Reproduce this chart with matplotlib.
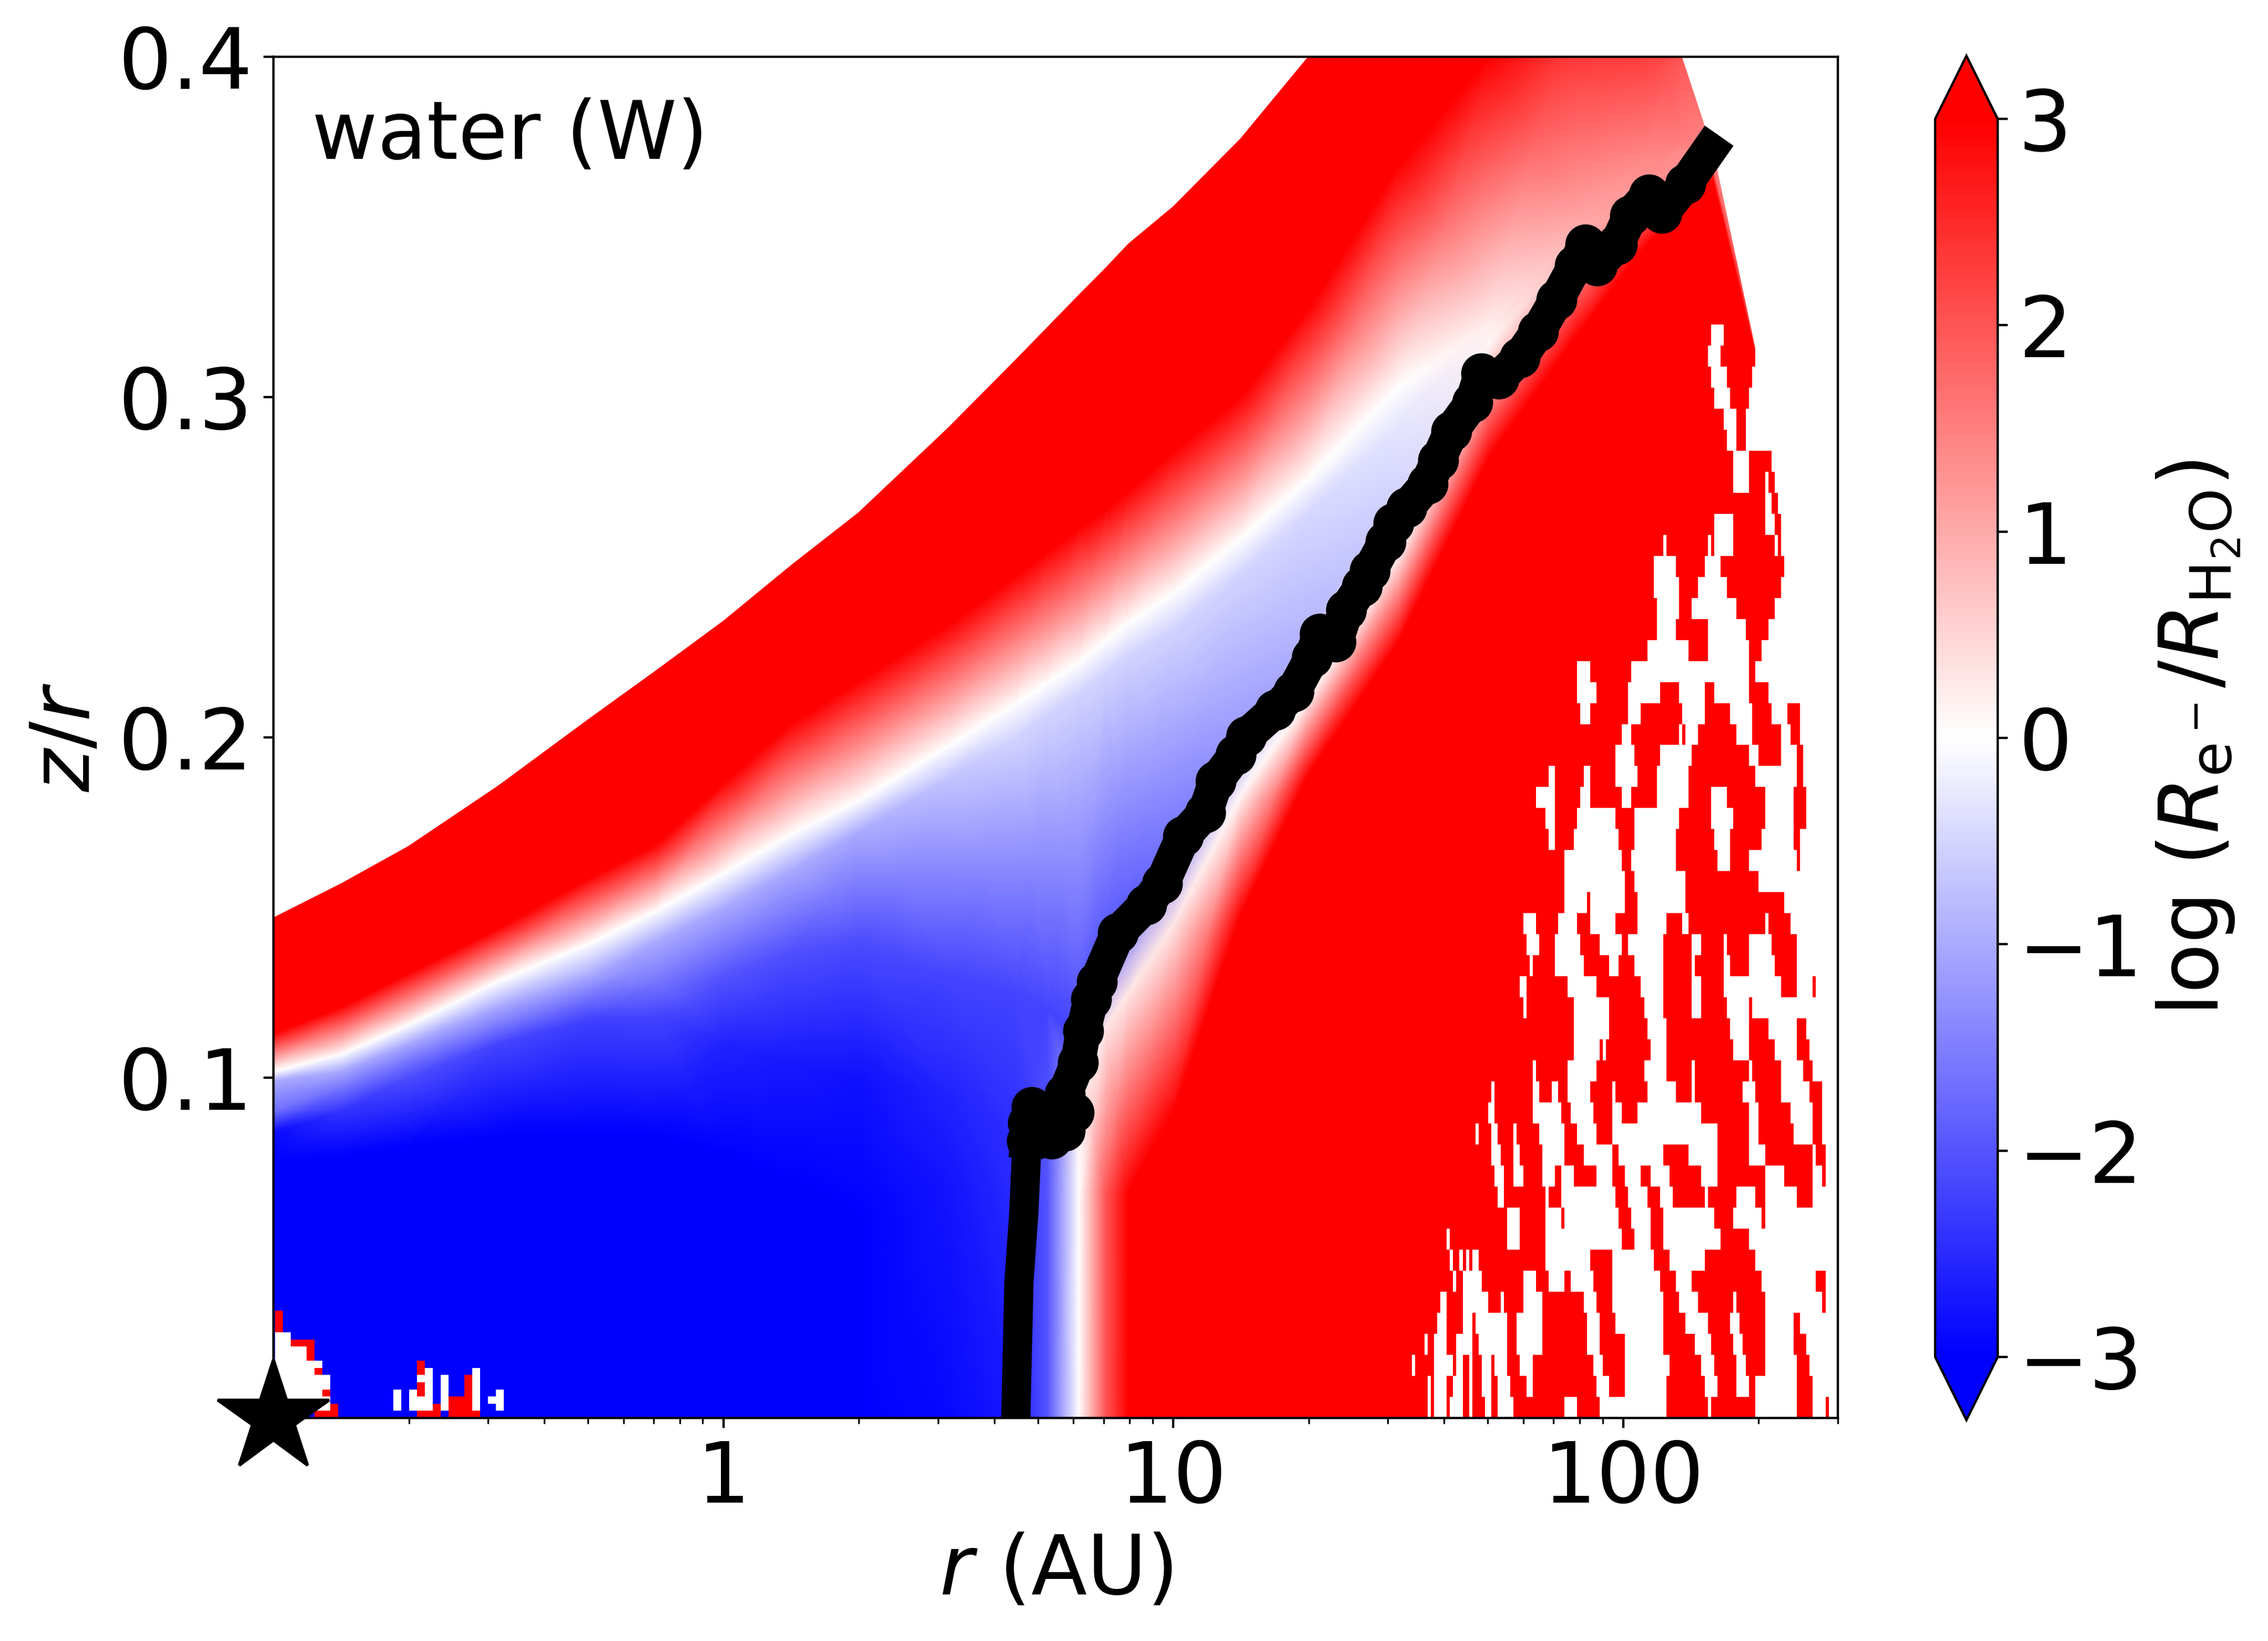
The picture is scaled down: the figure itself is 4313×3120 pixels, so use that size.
"""
Water disk map: log (R_e-/R_H2O) against r and z/r, with the contour where it crosses.
"""
import numpy as np
import matplotlib
matplotlib.use('Agg')
import matplotlib.pyplot as plt
from matplotlib.colors import ListedColormap
from matplotlib.ticker import FormatStrFormatter, NullFormatter

# columns of the field, log10(r/AU)
log_r = [-1, -.85, -.7, -.5, -.3, -.15, 0, .15, .3, .5, .65, .72, .79, .85, .9, 1, 1.15, 1.3, 1.5, 1.7, 1.9, 2.05, 2.13, 2.2, 2.3, 2.48]

# field rows from the midplane up: z/r of each row and the value on it
z_0 = [0] * 26
v_0 = [-3, -3, -3, -3, -3, -3, -3, -3, -3, -2.9, -2.7, -2, 0, 2, 3, 3, 3, 3, 3, 3, 3, 3, 3, 3, 3, 3]
z_1 = [.075, .077, .08, .083, .084, .083, .078, .07, .06, .07, .066, .066, .066, .066, .0665, .09, .148, .189, .228, .282, .3185, .3445, .3546, .364, .31, .31]
v_1 = [-3, -3, -3, -3, -3, -3, -3, -3, -3, -2.75, -2.5, -2, 0, 2, 3, 3, 3, 3, 3, 3, 3, 3, 3, 3, 3, 3]
z_2 = [.084, .09, .1, .11, .117, .118, .11, .105, .1, .095, .085, .08, .098, .115, .125, .145, .183, .212, .2535, .303, .335, .355, .362, .367, .31, .31]
v_2 = [-2.85, -2.4, -2.1, -2.2, -2.25, -2.2, -2.6, -2.7, -2.8, -2.6, -2.45, -2, .2, .3, .3, .3, .1, .1, .2, 1, 1.5, 1.6, 1.8, 1.8, 3, 3]
z_3 = [.09, .097, .105, .115, .123, .128, .13, .137, .14, .13, .125, .12, .112, .14, .15, .17, .2, .232, .273, .315, .345, .362, .368, .37, .31, .31]
v_3 = [-1.7, -1.6, -1.6, -1.6, -1.7, -1.6, -2, -2.05, -2.1, -2.2, -2.2, -2.2, -2.2, -2, -1.9, -1.6, -1.2, -.85, -.5, .1, .9, 1.3, 1.3, 1.3, 3, 3]
z_4 = [.099, .102, .11, .121, .13, .14, .15, .161, .172, .188, .2, .207, .213, .219, .224, .232, .248, .266, .292, .318, .35, .366, .372, .37, .31, .31]
v_4 = [-1, -1, -1, -1, -1, -1, -1, -1, -1, -.7, -.5, -.5, -.5, -.5, -.5, -.5, -.5, -.45, -.3, .15, 1, 1.35, 1.35, 1.3, 3, 3]
z_5 = [.1018, .1068, .1155, .1284, .1393, .149, .16, .1715, .1815, .1975, .21, .216, .222, .2285, .2335, .2425, .2585, .276, .303, .321, .352, .37, .375, .371, .31, .31]
v_5 = [0, 0, 0, 0, 0, 0, 0, 0, 0, 0, 0, 0, 0, 0, 0, 0, 0, 0, 0, .2, 1.05, 1.4, 1.5, 1.35, 3, 3]
z_6 = [.113, .1207, .1307, .1439, .1585, .1685, .1865, .204, .2165, .233, .2475, .2545, .2615, .267, .2725, .284, .3, .326, .368, .4, .425, .425, .4, .372, .31, .31]
v_6 = [3, 3, 3, 3, 3, 3, 3, 3, 3, 3, 3, 3, 3, 3, 3, 3, 3, 3, 3, 3, 3, 3, 2, 1.4, 3, 3]
z_7 = [.147, .157, .168, .1858, .2053, .2196, .2342, .2505, .266, .291, .311, .3205, .33, .338, .345, .356, .376, .4, .44, .48, .5, .5, .4, .372, .31, .31]
v_7 = v_6

# contour of the water line
line_log_r = [.65, .657, .668, .675, .677, .685, .718, .73, .759, .779, .759, .788, .8, .817, .83, .877, .94, .975,
              1.022, 1.071, 1.095, 1.139, 1.162, 1.227, 1.267, 1.308, 1.326, 1.361, 1.384, 1.419, 1.437, 1.472, 1.49,
              1.519, 1.565, 1.589, 1.618, 1.665, 1.685, 1.723, 1.77, 1.811, 1.852, 1.893, 1.916, 1.942, 1.986, 2.016,
              2.057, 2.086, 2.138, 2.191]
line_z = [0, .04, .0607, .0815, .0867, .0913, .089, .0821, .0844, .0898, .0952, .1045, .1138, .123, .1281, .1425, .1509, .157,
          .1709, .1779, .1872, .1949, .2003, .208, .2134, .2235, .2304, .2281, .2374, .2444, .249, .2575, .2629,
          .2675, .2745, .2815, .29, .2985, .307, .3054, .3116, .3193, .3286, .3386, .3448, .3386, .3448, .3533,
          .3595, .3541, .3626, .3726]

# outer disk, noisy cells: per row from the midplane, cell index pairs (start, end) of saturated cells
red_runs = [
    [0, 19, 20, 21, 25, 26, 30, 32, 33, 37, 39, 41, 46, 62, 66, 73, 94, 107, 108, 122, 135, 140, 144, 145],
    [0, 19, 20, 21, 25, 27, 30, 32, 33, 36, 39, 41, 45, 50, 52, 72, 76, 81, 94, 106, 110, 116, 120, 122, 135, 140],
    [0, 14, 15, 21, 27, 28, 30, 32, 33, 36, 39, 40, 44, 48, 52, 71, 74, 81, 95, 105, 109, 116, 119, 125, 135, 139],
    [0, 18, 19, 21, 25, 28, 33, 35, 44, 47, 55, 69, 73, 81, 93, 103, 108, 115, 118, 125, 134, 138],
    [0, 22, 25, 30, 33, 34, 44, 47, 55, 69, 73, 78, 93, 100, 107, 114, 117, 125, 134, 136],
    [0, 23, 25, 30, 38, 42, 43, 49, 55, 68, 72, 77, 93, 98, 104, 115, 116, 125, 143, 144],
    [0, 27, 28, 30, 36, 49, 53, 57, 62, 64, 71, 77, 92, 97, 102, 124, 141, 144],
    [0, 26, 27, 29, 30, 31, 32, 33, 35, 49, 49, 56, 70, 77, 90, 95, 106, 122],
    [0, 25, 26, 44, 48, 56, 80, 84, 89, 93, 111, 120],
    [0, 44, 48, 56, 61, 62, 79, 83, 89, 93, 109, 115, 124, 125],
    [0, 41, 43, 49, 49, 56, 57, 61, 78, 82, 88, 92, 96, 106, 107, 116, 122, 125, 135, 140],
    [0, 40, 43, 46, 49, 55, 59, 61, 65, 72, 77, 81, 86, 89, 95, 105, 110, 125, 131, 140, 143, 144],
    [0, 39, 42, 46, 48, 55, 62, 68, 77, 79, 93, 101, 110, 120, 125, 140, 141, 144],
    [0, 34, 35, 39, 41, 46, 47, 54, 62, 66, 72, 77, 110, 120, 123, 134, 140, 143],
    [0, 38, 40, 52, 61, 64, 71, 77, 80, 85, 105, 120, 123, 133, 140, 143],
    [0, 39, 40, 52, 54, 58, 60, 63, 70, 77, 78, 88, 97, 102, 103, 118, 122, 130, 139, 143],
    [0, 52, 53, 63, 72, 77, 77, 87, 94, 102, 103, 120, 121, 130, 137, 140],
    [0, 65, 73, 74, 75, 89, 94, 115, 120, 128, 135, 139],
    [0, 65, 76, 88, 94, 114, 120, 126, 135, 138],
    [0, 49, 50, 65, 76, 87, 93, 102, 105, 113, 120, 121],
    [0, 48, 50, 63, 72, 86, 93, 102, 105, 112, 130, 135, 140, 141],
    [0, 51, 52, 59, 68, 76, 79, 84, 93, 102, 103, 112, 114, 120, 128, 135],
    [0, 50, 54, 59, 67, 73, 80, 82, 93, 102, 105, 112, 113, 120, 127, 135],
    [0, 49, 53, 60, 66, 70, 78, 85, 94, 99, 101, 125, 126, 133],
    [0, 62, 69, 70, 81, 85, 100, 131],
    # second part, upward
    [0, 62, 81, 84, 100, 123],
    [0, 62, 80, 83, 97, 110, 114, 120, 135, 136],
    [0, 57, 59, 65, 79, 84, 97, 109, 114, 124, 134, 136],
    [0, 56, 59, 66, 78, 84, 98, 108, 115, 125, 134, 138],
    [0, 53, 59, 67, 70, 80, 83, 91, 101, 108, 113, 125, 134, 138],
    [0, 57, 59, 68, 70, 78, 85, 91, 101, 122, 135, 137],
    [0, 78, 84, 92, 102, 120, 123, 130, 135, 137],
    [0, 80, 83, 98, 99, 100, 104, 116, 121, 130, 133, 136],
    [0, 67, 70, 82, 86, 99, 106, 114, 121, 127, 132, 136],
    [0, 66, 72, 82, 92, 98, 106, 109, 120, 126],
    [0, 66, 70, 83, 120, 122],
    [0, 88, 101, 107, 120, 124],
    [0, 91, 97, 107, 119, 126],
    [0, 91, 98, 102, 116, 128],
    [0, 90, 98, 104, 113, 130],
    [0, 90, 97, 106, 111, 131],
    [0, 93, 94, 107, 108, 109, 115, 128, 129, 130],
    [0, 109, 115, 125, 128, 130],
    [0, 125, 127, 129],
    [0, 115, 120, 125, 126, 128],
    [0, 115, 120, 127],
    [0, 113, 116, 119],
    [0, 112, 116, 119],
    [0, 109, 114, 120],
    [0, 108, 113, 121],
    [0, 107, 111, 122],
    [0, 108, 112, 124],
]

# inner disk cells, from the top row down: w white, r saturated red
inner_cells = [
    "r.............................",
    "r.............................",
    "r.............................",
    "ww............................",
    "wwrrr.........................",
    "wwwwr.........................",
    "wwwwr.........................",
    "wwwwww............r...........",
    "wwwwwr............rw.....w....",
    "wwwwwww...........ww.w..rw....",
    "wwwwwww...........rw.w..rw....",
    "wwwwwwr........w.wrw.w..rw..w.",
    "wwwwwww........w.www.wrrrw.ww.",
    "wwwwwwwr.......w.wwwrwrrrw..w.",
    ".....rrr..........rrr.rrrr....",
]

cbar_ticks = [-3, -2, -1, 0, 1, 2, 3]
y_ticks = [0.1, 0.2, 0.3, 0.4]
x_ticks = [1, 10, 100]


plt.rcParams['font.size'] = 28
plt.rcParams['xtick.labelsize'] = 29
plt.rcParams['ytick.labelsize'] = 29

fig = plt.figure(figsize=(10.7825, 7.8), dpi=400)
ax = fig.add_axes([520 / 4313, 424 / 3120, 2975 / 4313, 2588 / 3120])

R = np.tile(10.0 ** np.array(log_r), (8, 1))
Z = np.vstack([z_0, z_1, z_2, z_3, z_4, z_5, z_6, z_7])
V = np.vstack([v_0, v_1, v_2, v_3, v_4, v_5, v_6, v_7])
mesh = ax.pcolormesh(R, Z, V, cmap='bwr', vmin=-3, vmax=3, shading='gouraud')

# noisy outer cells: white unless listed in red_runs
outer = np.zeros((len(red_runs), 148))
for row, runs in enumerate(red_runs):
    for start, end in zip(runs[::2], runs[1::2]):
        outer[row, start:end] = np.nan
outer_r = 10.0 ** np.linspace(1.431, 2.478, 149)
outer_z = np.arange(len(red_runs) + 1) * 0.00618
ax.pcolormesh(outer_r, outer_z, np.ma.masked_invalid(outer), cmap=ListedColormap(['white']), shading='flat')

# inner cells near the star
codes = {'.': np.nan, 'w': 0, 'r': 1}
inner = np.array([[codes[c] for c in row] for row in inner_cells[::-1]])
inner_r = 10.0 ** (-0.997 + np.arange(31) * 0.01753)
inner_z = np.arange(len(inner_cells) + 1) * 0.0021
ax.pcolormesh(inner_r, inner_z, np.ma.masked_invalid(inner), cmap=ListedColormap(['white', 'red']),
              vmin=0, vmax=1, shading='flat')

# the lower part of the contour is thinner than the wavy upper part
line_r = 10.0 ** np.array(line_log_r)
ax.plot(line_r[:4], line_z[:4], color='k', lw=10)
ax.plot(line_r[3:], line_z[3:], color='k', lw=12, marker='o', markersize=13, markevery=slice(0, -1))
ax.plot([0.1], [0], marker='*', color='k', markersize=40, clip_on=False, zorder=10)

ax.set_xscale('log')
ax.set_xlim(0.1, 300)
ax.set_ylim(0, 0.4)
ax.set_xticks(x_ticks)
ax.xaxis.set_major_formatter(FormatStrFormatter('%g'))
ax.xaxis.set_minor_formatter(NullFormatter())
ax.set_yticks(y_ticks)
ax.set_xlabel(r'$r$ (AU)')
ax.set_ylabel(r'$z/r$')
ax.text(0.0245, 0.925, 'water (W)', transform=ax.transAxes, ha='left', va='baseline', fontsize=27.5)

# the colorbar axes hold the body and both extend tips
cax = fig.add_axes([3680 / 4313, 420 / 3120, 119 / 4313, 2594 / 3120])
cbar = fig.colorbar(mesh, cax=cax, extend='both', extendfrac=0.051, ticks=cbar_ticks)
cbar.set_label(r'log ($R_{\rm e^-}/R_{\rm H_2O}$)')

fig.savefig('out.png', dpi=400)
